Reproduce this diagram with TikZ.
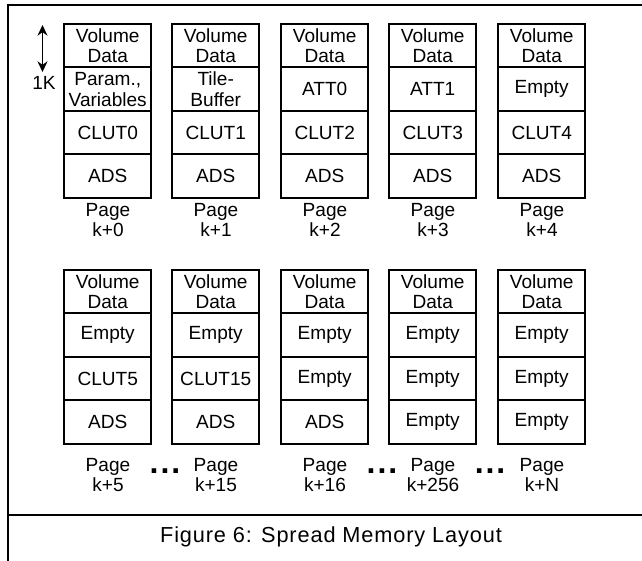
\documentclass[tikz,border=0pt]{standalone}
\usepackage{fontspec}
\setmainfont{Liberation Sans}
\newfontfamily\capfont[LetterSpace=4]{Liberation Sans}
\newfontfamily\dotfont[LetterSpace=6]{Liberation Sans}
\usetikzlibrary{arrows.meta}
\tikzset{
  cell/.style={draw, line width=1.5pt, minimum width=65.6pt, minimum height=32.6pt,
    inner sep=0pt, outer sep=0pt, anchor=north west, align=center,
    font=\fontsize{14.3}{15.6}\selectfont},
  pagelbl/.style={align=center, inner sep=0pt, font=\fontsize{14.3}{15}\selectfont},
  dots/.style={inner sep=0pt, anchor=base, font=\dotfont\bfseries\fontsize{24}{24}\selectfont},
  frame/.style={line width=1.5pt},
  dim/.style={line width=1.3pt, {Stealth[length=8pt,width=7.5pt]}-{Stealth[length=8pt,width=7.5pt]}}
}
\newcommand\memcol[9]{%
  \node[cell] (#1a) at (#2,#3) {Volume\\Data};
  \node[cell] (#1b) at (#1a.south west) {#4};
  \node[cell] (#1c) at (#1b.south west) {#5};
  \node[cell] (#1d) at (#1c.south west) {#6};
  \node[pagelbl] (#1p) at (#2+44,#9) {Page\\#8};
}
\begin{document}
\begin{tikzpicture}[x=0.75pt,y=-0.75pt]
\useasboundingbox (0,0) rectangle (642,560);
\draw[frame] (8,5) rectangle (646,566);
\draw[frame] (8,515) -- (646,515);
\node[anchor=base, inner sep=0pt, font=\capfont\fontsize{16.3}{18}\selectfont] (cap) at (331,542) {Figure 6: Spread Memory Layout};
% 1K dimension arrow
\coordinate (dimtop) at (42.5,25);
\coordinate (dimbot) at (42.5,72);
\draw[dim] (dimtop) -- (dimbot);
\node[font=\fontsize{14.3}{15}\selectfont, inner sep=0pt] (onek) at (44,83) {1K};
% top row
\memcol{p0}{64}{24}{Param.,\\Variables}{CLUT0}{ADS}{}{k+0}{220}
\memcol{p1}{172}{24}{Tile-\\Buffer}{CLUT1}{ADS}{}{k+1}{220}
\memcol{p2}{281}{24}{ATT0}{CLUT2}{ADS}{}{k+2}{220}
\memcol{p3}{389}{24}{ATT1}{CLUT3}{ADS}{}{k+3}{220}
\memcol{p4}{498}{24}{Empty}{CLUT4}{ADS}{}{k+4}{220}
% bottom row
\memcol{q0}{64}{270}{Empty}{CLUT5}{ADS}{}{k+5}{475}
\memcol{q1}{172}{270}{Empty}{CLUT15}{ADS}{}{k+15}{475}
\memcol{q2}{281}{270}{Empty}{Empty}{ADS}{}{k+16}{475}
\memcol{q3}{389}{270}{Empty}{Empty}{Empty}{}{k+256}{475}
\memcol{q4}{498}{270}{Empty}{Empty}{Empty}{}{k+N}{475}
% ellipses
\node[dots] (d1) at (165,473) {...};
\node[dots] (d2) at (382,473) {...};
\node[dots] (d3) at (490,473) {...};
\end{tikzpicture}
\end{document}
